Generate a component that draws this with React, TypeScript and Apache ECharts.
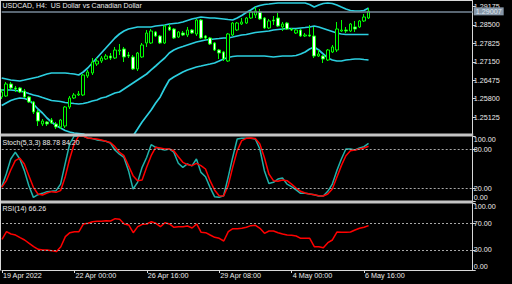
import { useEffect, useRef } from 'react';
import * as echarts from 'echarts';

const mainTitle = 'USDCAD, H4:  US Dollar vs Canadian Dollar';
const xTickIndex = [0, 16, 32, 48, 64, 80];
const xTickLabels = ['19 Apr 2022', '22 Apr 00:00', '26 Apr 16:00', '29 Apr 08:00', '4 May 00:00', '6 May 16:00'];
const slotCount = 105;

const priceTicks = [1.25125, 1.258, 1.26475, 1.2715, 1.27825, 1.285, 1.29175];
const stochTicks = [0, 20, 80, 100];
const rsiTicks = [0, 30, 70, 100];
const stochLevels = [20, 80];
const rsiLevels = [30, 70];

const opens = [1.25863,1.25899,1.26339,1.26192,1.26192,1.26082,1.25863,1.25679,1.25313,1.24874,
1.24947,1.25020,1.24874,1.24764,1.24800,1.25496,1.25826,1.25936,1.25936,1.26632,
1.26742,1.27071,1.27181,1.27255,1.27364,1.27291,1.27548,1.27621,1.27401,1.27328,
1.26888,1.27328,1.27841,1.27841,1.28244,1.28097,1.27841,1.28427,1.28353,1.28060,
1.28207,1.28134,1.28317,1.28170,1.28683,1.28097,1.28024,1.27841,1.27584,1.27511,
1.27181,1.28134,1.28317,1.28537,1.28573,1.28756,1.28866,1.28976,1.28756,1.28390,
1.28683,1.28756,1.28427,1.28573,1.28353,1.28207,1.28317,1.28097,1.28134,1.28097,
1.27364,1.27364,1.27218,1.27511,1.27584,1.28280,1.28317,1.28280,1.28427,1.28427,
1.28647,1.28756];

const closes = [1.26046,1.26339,1.26192,1.26156,1.26046,1.25863,1.25679,1.25313,1.24983,1.24983,
1.24874,1.24910,1.24764,1.25020,1.25496,1.25826,1.25936,1.25973,1.26668,1.26778,
1.27145,1.27181,1.27291,1.27364,1.27291,1.27584,1.27584,1.27328,1.27364,1.26888,
1.27474,1.27767,1.28207,1.28280,1.28097,1.27841,1.28463,1.28317,1.28024,1.28244,
1.28134,1.28317,1.28207,1.28683,1.28024,1.28024,1.27804,1.27584,1.27474,1.27255,
1.28170,1.28573,1.28573,1.28610,1.28756,1.28976,1.29013,1.28720,1.28390,1.28647,
1.28647,1.28463,1.28537,1.28353,1.28317,1.28317,1.28097,1.28134,1.28097,1.27364,
1.27438,1.27255,1.27584,1.27694,1.28353,1.28317,1.28280,1.28537,1.28353,1.28647,
1.28793,1.29007];

const highs = [1.26156,1.26412,1.26412,1.26266,1.26229,1.26156,1.25899,1.25716,1.25386,1.25057,
1.24983,1.25093,1.24947,1.25057,1.25533,1.25899,1.26009,1.26082,1.26705,1.26852,
1.27291,1.27291,1.27364,1.27438,1.27474,1.27694,1.27804,1.27694,1.27511,1.27401,
1.27511,1.27841,1.28317,1.28353,1.28280,1.28134,1.28500,1.28537,1.28390,1.28280,
1.28280,1.28427,1.28353,1.28720,1.28720,1.28134,1.28060,1.27877,1.27621,1.27548,
1.28207,1.28610,1.28610,1.28756,1.28793,1.29013,1.29159,1.29086,1.28793,1.28720,
1.28830,1.28940,1.28610,1.28610,1.28390,1.28353,1.28353,1.28207,1.28500,1.28427,
1.27584,1.27401,1.27621,1.27767,1.28610,1.28683,1.28427,1.28573,1.28647,1.28683,
1.28903,1.29123];

const lows = [1.25789,1.25863,1.26119,1.26046,1.26009,1.25826,1.25643,1.25240,1.24800,1.24800,
1.24800,1.24874,1.24690,1.24690,1.24727,1.25423,1.25789,1.25899,1.25899,1.26559,
1.26668,1.26998,1.27108,1.27218,1.27218,1.27255,1.27401,1.27145,1.27291,1.26852,
1.26815,1.27291,1.27694,1.27804,1.28060,1.27804,1.27804,1.28280,1.27987,1.28024,
1.28097,1.28060,1.28170,1.28097,1.27987,1.27951,1.27767,1.27548,1.27255,1.27181,
1.27145,1.28097,1.28280,1.28500,1.28537,1.28720,1.28756,1.28683,1.28353,1.28353,
1.28500,1.28427,1.28280,1.28317,1.28280,1.28170,1.28060,1.28060,1.28060,1.27291,
1.27328,1.27108,1.27181,1.27474,1.27511,1.28244,1.28207,1.28244,1.28244,1.28390,
1.28610,1.28720];

const bbUpper = [1.26559,1.26522,1.26485,1.26467,1.26449,1.26485,1.26522,1.26559,1.26595,1.26650,
1.26705,1.26742,1.26742,1.26742,1.26742,1.26723,1.26705,1.26668,1.26778,1.26925,
1.27108,1.27291,1.27474,1.27658,1.27841,1.28024,1.28170,1.28280,1.28353,1.28390,
1.28427,1.28427,1.28427,1.28427,1.28463,1.28482,1.28500,1.28537,1.28555,1.28573,
1.28610,1.28665,1.28720,1.28756,1.28793,1.28775,1.28756,1.28756,1.28738,1.28720,
1.28701,1.28683,1.28756,1.28848,1.28958,1.29049,1.29159,1.29214,1.29251,1.29269,
1.29288,1.29306,1.29306,1.29306,1.29306,1.29306,1.29306,1.29306,1.29251,1.29159,
1.29233,1.29288,1.29306,1.29288,1.29233,1.29159,1.29086,1.29031,1.29013,1.29013,
1.29031,1.29123];

const bbMiddle = [1.26119,1.26119,1.26119,1.26101,1.26082,1.26046,1.25990,1.25936,1.25899,1.25844,
1.25790,1.25734,1.25716,1.25698,1.25661,1.25643,1.25624,1.25606,1.25624,1.25661,
1.25716,1.25753,1.25826,1.25863,1.25936,1.26009,1.26046,1.26156,1.26266,1.26375,
1.26485,1.26595,1.26705,1.26852,1.26998,1.27145,1.27291,1.27474,1.27584,1.27658,
1.27712,1.27767,1.27822,1.27877,1.27914,1.27951,1.27969,1.27987,1.28005,1.28024,
1.28024,1.28060,1.28097,1.28134,1.28152,1.28189,1.28225,1.28244,1.28262,1.28280,
1.28317,1.28335,1.28353,1.28372,1.28372,1.28372,1.28390,1.28408,1.28427,1.28463,
1.28427,1.28372,1.28317,1.28262,1.28207,1.28170,1.28152,1.28152,1.28152,1.28152,
1.28152,1.28152];

const bbLower = [1.25551,1.25643,1.25734,1.25789,1.25826,1.25808,1.25753,1.25606,1.25423,1.25276,
1.25093,1.24947,1.24818,1.24727,1.24635,1.24580,1.24544,1.24526,1.24507,1.24434,
1.24361,1.24288,1.24178,1.24104,1.24031,1.23995,1.23995,1.24031,1.24178,1.24434,
1.24690,1.24947,1.25167,1.25386,1.25643,1.25863,1.26192,1.26485,1.26595,1.26687,
1.26778,1.26852,1.26907,1.26962,1.26998,1.27035,1.27071,1.27108,1.27181,1.27255,
1.27310,1.27346,1.27364,1.27364,1.27364,1.27364,1.27364,1.27364,1.27364,1.27346,
1.27328,1.27346,1.27364,1.27364,1.27364,1.27383,1.27438,1.27511,1.27621,1.27694,
1.27584,1.27438,1.27291,1.27218,1.27181,1.27181,1.27218,1.27236,1.27255,1.27255,
1.27236,1.27218];

const stochK = [22,41.5,64.6,75,64.6,46.7,23.6,5.6,9.7,11.8,
14.4,14.9,15.9,26,57,87.7,100,100,100,97,
96,94,93,92,89,78.5,72,67,46.7,18.5,
28.7,51.8,67,86.7,82.6,80,78.5,80,75,58,
51.8,57,54,64.6,44,37.4,21,6.7,5.6,8,
36.4,67,95.4,96.4,96.4,96.4,95.4,80,46.7,27,
28.7,33.8,35.4,26,22,17,11.8,11.8,10.8,9.7,
7.7,7.7,14.9,26,46.7,64.6,80,80,78.5,81.5,
83.6,88.78];

const stochD = [21,31,47.7,62,66,57,39,21,10.8,9.2,
12.3,14.4,13.3,15.9,36.4,64.6,87.7,100,100,97,
96,95.4,93.8,91.8,90,83.6,75,69.7,54.4,39,
31.3,32.3,51.8,69.7,82.6,81.5,80,80,77.4,68,
59.5,56,54.4,58,54.4,49.2,31.3,17,8,7.7,
23.6,51.8,77.4,92.8,96.4,97,96,87.7,67,41.5,
31.3,30.3,32.3,31.3,26,20,14.9,12.3,10.8,9.7,
8.2,7.7,10.8,18.5,36.4,54.4,69.7,77.4,78.5,80,
81.5,84.2];

const rsi = [45.8,57.2,53.7,52.2,48.3,44.8,39.8,34.8,30.8,29.9,
29.9,28.9,27.4,34.8,49.8,55.7,57.2,57.2,68.7,69.7,
72.1,72.6,72.6,73.6,73.1,76.6,75.6,68.7,67.2,55.7,
64.7,68.2,68.7,72.1,69.7,64.7,70.6,68.7,63.7,64.7,
64.7,65.7,62.7,68.7,56.2,55.7,52.2,48.8,47.3,43.3,
57.2,61.7,61.7,62.2,63.7,66.2,66.7,62.2,54.7,58.2,
58.2,55.7,53.7,52.2,51.7,50.7,47.3,47.3,47.3,34.8,
34.8,33.3,40.8,44.8,56.7,56.2,56.2,56.7,59.7,62.2,
63.7,66.26];

const FONT = 'Liberation Sans, Arial, sans-serif';
const AXIS_COLOR = '#d8d8d8';
const TEXT_COLOR = '#ececec';

export default function App() {
  const ref = useRef<HTMLDivElement>(null);

  useEffect(() => {
    if (!ref.current) return;
    const chart = echarts.init(ref.current, null, { renderer: 'svg' });

    const categories = Array.from({ length: slotCount }, (_, i) => {
      const k = xTickIndex.indexOf(i);
      return k >= 0 ? xTickLabels[k] : '';
    });
    const showTick = (idx: number) => xTickIndex.includes(idx);
    const candles = opens.map((o, i) => [o, closes[i], lows[i], highs[i]]);
    const last = closes.length - 1;
    const lastPrice = closes[last];

    const gridLeft = 1.7;
    const gridWidth = 471;
    const grids = [
      { left: gridLeft, width: gridWidth, top: 1, height: 133 },
      { left: gridLeft, width: gridWidth, top: 136, height: 65 },
      { left: gridLeft, width: gridWidth, top: 203, height: 67 },
    ];

    const xAxisBase = (gi: number) => ({
      type: 'category',
      gridIndex: gi,
      data: categories,
      boundaryGap: false,
      axisLine: { show: gi === 2, lineStyle: { color: AXIS_COLOR, width: 1 } },
      axisTick: {
        show: gi === 2,
        length: 3,
        interval: (idx: number) => showTick(idx),
        lineStyle: { color: AXIS_COLOR },
      },
      axisLabel: {
        show: gi === 2,
        interval: (idx: number) => showTick(idx),
        align: 'left',
        margin: 2,
        padding: [0, 0, 0, 1],
        color: TEXT_COLOR,
        fontSize: 7.2,
        fontFamily: FONT,
      },
      splitLine: { show: false },
    });

    const yAxisBase = (gi: number, min: number, max: number, ticks: number[], digits: number) => ({
      type: 'value',
      gridIndex: gi,
      position: 'right',
      min,
      max,
      scale: true,
      axisLine: { show: true, lineStyle: { color: AXIS_COLOR, width: 1 } },
      axisTick: { show: true, length: 3, customValues: ticks, lineStyle: { color: AXIS_COLOR } },
      axisLabel: {
        show: true,
        customValues: ticks,
        formatter: (v: number) => v.toFixed(digits),
        margin: 1,
        color: TEXT_COLOR,
        fontSize: 7.2,
        fontFamily: FONT,
        verticalAlignMaxLabel: gi === 0 ? undefined : 'top',
        verticalAlignMinLabel: gi === 0 ? undefined : 'bottom',
      },
      splitLine: { show: false },
    });

    const levelLine = (levels: number[]) => ({
      silent: true,
      symbol: ['none', 'none'],
      label: { show: false },
      lineStyle: { color: '#a8a8a8', type: [2, 2], width: 1 },
      emphasis: { disabled: true },
      data: levels.map((v) => ({ yAxis: v })),
    });

    const bandColor = '#2ccfe0';
    const band = (data: number[]) => ({
      type: 'line',
      xAxisIndex: 0,
      yAxisIndex: 0,
      data,
      showSymbol: false,
      symbol: 'none',
      silent: true,
      clip: true,
      lineStyle: { color: bandColor, width: 1.7 },
      z: 1,
    });

    const option = {
      animation: false,
      backgroundColor: '#000000',
      title: [
        { text: mainTitle, left: 2.5, top: 1.5, padding: 0, textStyle: { color: TEXT_COLOR, fontSize: 7, fontWeight: 'normal', fontFamily: FONT } },
        { text: `Stoch(5,3,3) ${stochK[last].toFixed(2)} ${stochD[last].toFixed(2)}`, left: 2.5, top: 138.5, padding: 0, textStyle: { color: TEXT_COLOR, fontSize: 7, fontWeight: 'normal', fontFamily: FONT } },
        { text: `RSI(14) ${rsi[last].toFixed(2)}`, left: 2.5, top: 204.5, padding: 0, textStyle: { color: TEXT_COLOR, fontSize: 7, fontWeight: 'normal', fontFamily: FONT } },
      ],
      grid: grids,
      xAxis: [xAxisBase(0), xAxisBase(1), xAxisBase(2)],
      yAxis: [
        yAxisBase(0, 1.24507, 1.29379, priceTicks, 5),
        yAxisBase(1, 0, 100, stochTicks, 2),
        yAxisBase(2, 0, 100, rsiTicks, 2),
      ],
      series: [
        band(bbUpper),
        band(bbMiddle),
        band(bbLower),
        {
          type: 'candlestick',
          xAxisIndex: 0,
          yAxisIndex: 0,
          data: candles,
          barWidth: 3,
          clip: true,
          silent: true,
          z: 3,
          itemStyle: {
            color: '#000000',
            color0: '#ffffff',
            borderColor: '#00ff00',
            borderColor0: '#00ff00',
            borderColorDoji: '#00ff00',
            borderWidth: 1,
          },
          markLine: {
            silent: true,
            symbol: ['none', 'none'],
            lineStyle: { color: '#778899', type: 'solid', width: 1.6 },
            emphasis: { disabled: true },
            label: {
              show: true,
              position: 'end',
              distance: 1,
              formatter: () => lastPrice.toFixed(5),
              backgroundColor: '#8797a8',
              color: '#dfe6ee',
              fontSize: 7.2,
              fontFamily: FONT,
              padding: [1, 2, 0, 2],
            },
            data: [{ yAxis: lastPrice }],
          },
        },
        {
          type: 'line',
          xAxisIndex: 1,
          yAxisIndex: 1,
          data: stochK,
          showSymbol: false,
          symbol: 'none',
          silent: true,
          lineStyle: { color: '#20B2AA', width: 1.5 },
          markLine: levelLine(stochLevels),
        },
        {
          type: 'line',
          xAxisIndex: 1,
          yAxisIndex: 1,
          data: stochD,
          showSymbol: false,
          symbol: 'none',
          silent: true,
          lineStyle: { color: '#ff0000', width: 1.5 },
        },
        {
          type: 'line',
          xAxisIndex: 2,
          yAxisIndex: 2,
          data: rsi,
          showSymbol: false,
          symbol: 'none',
          silent: true,
          lineStyle: { color: '#ff0000', width: 1.5 },
          markLine: levelLine(rsiLevels),
        },
      ],
      graphic: [
        { type: 'rect', z: 100, shape: { x: 0, y: 133.5, width: 473.2, height: 3 }, style: { fill: '#c4c4c4' } },
        { type: 'rect', z: 100, shape: { x: 0, y: 200.5, width: 473.2, height: 3 }, style: { fill: '#c4c4c4' } },
        { type: 'line', z: 100, shape: { x1: 0, y1: 0.5, x2: 473, y2: 0.5 }, style: { stroke: AXIS_COLOR, lineWidth: 1 } },
        { type: 'line', z: 100, shape: { x1: 0.5, y1: 0, x2: 0.5, y2: 270.5 }, style: { stroke: AXIS_COLOR, lineWidth: 1 } },
      ],
    };

    chart.setOption(option as any);
    return () => chart.dispose();
  }, []);

  return (
    <div
      ref={ref}
      style={{ width: 512, height: 284, position: 'absolute', left: 0, top: 0, background: '#000' }}
    />
  );
}
